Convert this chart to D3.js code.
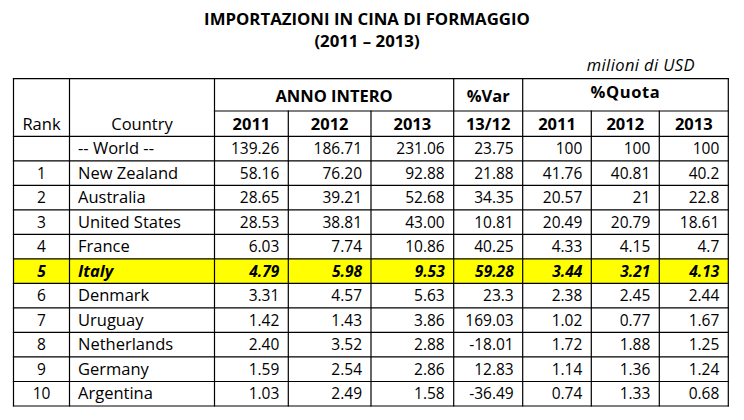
<!DOCTYPE html>
<html>
<head>
<meta charset="utf-8">
<script src="https://cdn.jsdelivr.net/npm/d3@7"></script>
<style>
  body { margin: 0; background: #fff; }
  svg text { font-family: "Open Sans", "Noto Sans", sans-serif; fill: #000; }
</style>
</head>
<body>
<div id="chart"></div>
<script>
// table data (displayed as in the source)
let ranks = ["", "1", "2", "3", "4", "5", "6", "7", "8", "9", "10"];
let countries = ["-- World --", "New Zealand", "Australia", "United States", "France", "Italy",
    "Denmark", "Uruguay", "Netherlands", "Germany", "Argentina"];
let val2011 = ["139.26", "58.16", "28.65", "28.53", "6.03", "4.79", "3.31", "1.42", "2.40", "1.59", "1.03"];
let val2012 = ["186.71", "76.20", "39.21", "38.81", "7.74", "5.98", "4.57", "1.43", "3.52", "2.54", "2.49"];
let val2013 = ["231.06", "92.88", "52.68", "43.00", "10.86", "9.53", "5.63", "3.86", "2.88", "2.86", "1.58"];
let var1312 = ["23.75", "21.88", "34.35", "10.81", "40.25", "59.28", "23.3", "169.03", "-18.01", "12.83", "-36.49"];
let quota2011 = ["100", "41.76", "20.57", "20.49", "4.33", "3.44", "2.38", "1.02", "1.72", "1.14", "0.74"];
let quota2012 = ["100", "40.81", "21", "20.79", "4.15", "3.21", "2.45", "0.77", "1.88", "1.36", "1.33"];
let quota2013 = ["100", "40.2", "22.8", "18.61", "4.7", "4.13", "2.44", "1.67", "1.25", "1.24", "0.68"];
let highlightCountry = "Italy";

let groupHeaders = ["ANNO INTERO", "%Var", "%Quota"];
let subHeaders = ["2011", "2012", "2013", "13/12", "2011", "2012", "2013"];

let titleLines = ["IMPORTAZIONI IN CINA DI FORMAGGIO", "(2011 \u2013 2013)"];
let unitLabel = "milioni di USD";

// layout
let width = 744, height = 420;
let colEdges = [13.5, 69.5, 214.5, 288.3, 371, 453.7, 522.7, 591.3, 659.3, 728.3];
let tableTop = 78.7, headMid = 111, headBottom = 136.3, tableBottom = 406;
let labelSize = "16.5px", numSize = "15.5px";

let svg = d3.select("#chart").append("svg")
    .attr("width", width)
    .attr("height", height);

let columns = [ranks, countries, val2011, val2012, val2013, var1312, quota2011, quota2012, quota2013];

let y = d3.scaleBand()
    .domain(d3.range(countries.length))
    .range([headBottom, tableBottom]);

// highlighted row
let hi = countries.indexOf(highlightCountry);
svg.append("rect")
    .attr("x", colEdges[0])
    .attr("y", y(hi))
    .attr("width", colEdges[colEdges.length - 1] - colEdges[0])
    .attr("height", y.bandwidth())
    .attr("fill", "#ffff00");

// titles
svg.selectAll(".title")
    .data(titleLines)
    .enter().append("text")
    .attr("x", 367)
    .attr("y", function(d, i) { return 25 + i * 22; })
    .attr("text-anchor", "middle")
    .attr("font-size", "16.8px")
    .attr("font-weight", "bold")
    .text(function(d) { return d; });

svg.append("text")
    .attr("x", 695)
    .attr("y", 70.5)
    .attr("text-anchor", "end")
    .attr("font-size", "16.5px")
    .attr("letter-spacing", "0.4px")
    .attr("font-style", "italic")
    .text(unitLabel);

// header texts
let headY = 129.5;
svg.append("text")
    .attr("x", (colEdges[0] + colEdges[1]) / 2).attr("y", headY)
    .attr("text-anchor", "middle").attr("font-size", labelSize)
    .text("Rank");
svg.append("text")
    .attr("x", (colEdges[1] + colEdges[2]) / 2).attr("y", headY)
    .attr("text-anchor", "middle").attr("font-size", labelSize)
    .text("Country");

let groupSpans = [[2, 5], [5, 6], [6, 9]];
svg.selectAll(".group")
    .data(groupHeaders)
    .enter().append("text")
    .attr("x", function(d, i) { return (colEdges[groupSpans[i][0]] + colEdges[groupSpans[i][1]]) / 2; })
    .attr("y", function(d, i) { return i == 2 ? 97.5 : 101.5; })
    .attr("text-anchor", "middle")
    .attr("font-size", labelSize)
    .attr("letter-spacing", function(d, i) { return i == 2 ? "0.6px" : "0px"; })
    .attr("font-weight", "bold")
    .text(function(d) { return d; });

svg.selectAll(".sub")
    .data(subHeaders)
    .enter().append("text")
    .attr("x", function(d, i) { return (colEdges[i + 2] + colEdges[i + 3]) / 2; })
    .attr("y", headY)
    .attr("text-anchor", "middle")
    .attr("font-size", labelSize)
    .attr("font-weight", "bold")
    .text(function(d) { return d; });

// body cells
columns.forEach(function(col, c) {
    svg.selectAll(".c" + c)
        .data(col)
        .enter().append("text")
        .attr("x", function() {
            if (c == 0) return (colEdges[0] + colEdges[1]) / 2;
            if (c == 1) return colEdges[1] + 8.5;
            return colEdges[c + 1] - 9;
        })
        .attr("y", function(d, i) { return y(i) + y.bandwidth() / 2 + 5.6; })
        .attr("text-anchor", c == 0 ? "middle" : (c == 1 ? "start" : "end"))
        .attr("font-size", c == 1 ? labelSize : numSize)
        .attr("font-weight", function(d, i) { return i == hi ? "bold" : "normal"; })
        .attr("font-style", function(d, i) { return i == hi ? "italic" : "normal"; })
        .text(function(d) { return d; });
});

// grid lines
let lines = [];
lines.push([colEdges[0], tableTop, colEdges[9], tableTop]);
lines.push([colEdges[0], tableBottom, colEdges[9], tableBottom]);
lines.push([colEdges[2], headMid, colEdges[9], headMid]);
y.domain().forEach(function(i) {
    lines.push([colEdges[0], y(i), colEdges[9], y(i)]);
});
colEdges.forEach(function(x, k) {
    let top = tableTop;
    if (k == 3 || k == 4 || k == 7 || k == 8) top = headMid;
    lines.push([x, top, x, tableBottom]);
});

svg.selectAll(".grid")
    .data(lines)
    .enter().append("line")
    .attr("x1", function(d) { return d[0]; })
    .attr("y1", function(d) { return d[1]; })
    .attr("x2", function(d) { return d[2]; })
    .attr("y2", function(d) { return d[3]; })
    .attr("stroke", "#000")
    .attr("stroke-width", 1.2)
    .attr("stroke-linecap", "square");
</script>
</body>
</html>
